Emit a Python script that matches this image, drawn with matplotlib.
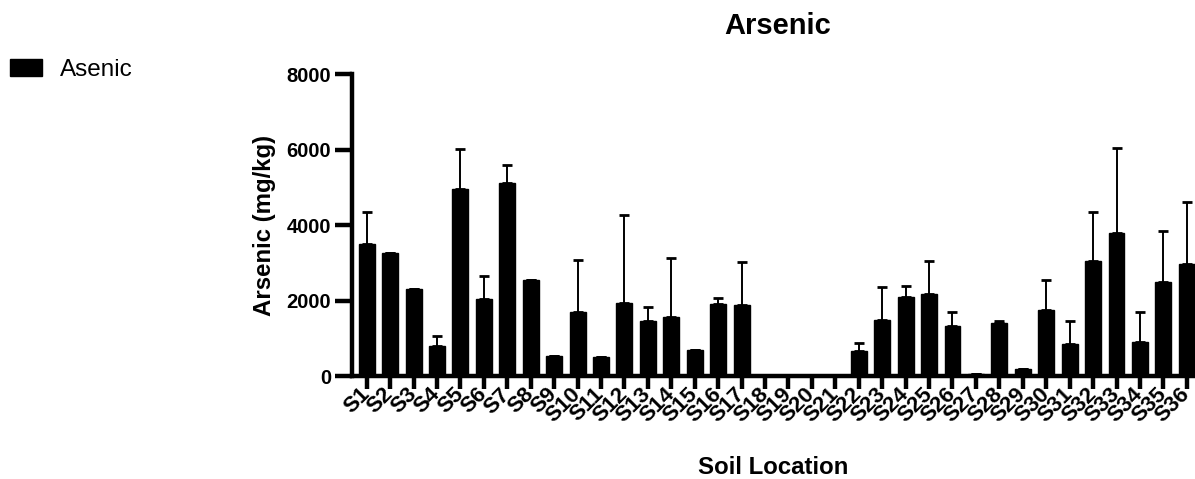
import matplotlib
matplotlib.use("Agg")
import matplotlib.pyplot as plt
import numpy as np

plt.rcParams['font.family'] = ['Liberation Sans', 'DejaVu Sans']

locations = [f"S{i}" for i in range(1, 37)]
means = [3500, 3267, 2313, 795, 4945, 2048, 5121, 2552, 539, 1687,
         512, 1943, 1448, 1572, 698, 1899, 1890, 0, 0, 0,
         0, 653, 1492, 2102, 2182, 1316, 62, 1413, 194, 1740,
         857, 3055, 3788, 901, 2499, 2958]
upper = [4353, 3267, 2313, 1060, 6005, 2649, 5590, 2552, 539, 3073,
         512, 4256, 1828, 3126, 698, 2066, 3028, 0, 0, 0,
         0, 883, 2358, 2384, 3037, 1687, 62, 1466, 194, 2543,
         1457, 4344, 6049, 1695, 3841, 4618]
errs = [max(u - m, 0) for u, m in zip(upper, means)]
yticks = [0, 2000, 4000, 6000, 8000]

W, H = 1195, 479
fig = plt.figure(figsize=(W / 100, H / 100), dpi=100)
ax = fig.add_axes([352 / W, 1 - 376 / H, (1195 - 352) / W, (376 - 74) / H])

x = np.arange(len(locations))
bars = ax.bar(x, means, width=0.68, color='black', edgecolor='black', linewidth=1,
              label='Asenic', zorder=2)
ax.errorbar(x, means, yerr=[np.zeros(len(errs)), errs], fmt='none', ecolor='black',
            elinewidth=1.4, capsize=3.5, capthick=2, zorder=1)

ax.set_xlim(-0.627, 35.35)
ax.set_ylim(0, 8000)
ax.set_yticks(yticks)
ax.set_yticklabels([str(v) for v in yticks], fontsize=14.5, fontweight='bold')
ax.set_xticks(x)
ax.set_xticklabels(locations, fontsize=16, fontweight='bold', rotation=45,
                   ha='right', va='center', rotation_mode='anchor')

for s in ['top', 'right']:
    ax.spines[s].set_visible(False)
for s in ['left', 'bottom']:
    ax.spines[s].set_linewidth(3.2)
ax.tick_params(axis='y', length=12, width=3.2, pad=3)
ax.tick_params(axis='x', length=9, width=3.2, pad=2)

ax.set_ylabel('Arsenic (mg/kg)', fontsize=17.3, fontweight='bold', va='center')
ax.yaxis.set_label_coords((264 - 352) / (1195 - 352), 0.5)
ax.set_xlabel('Soil Location', fontsize=17.3, fontweight='bold')
ax.xaxis.set_label_coords(0.5, -(467 - 376) / (376 - 74))
ax.xaxis.label.set_va('center')

fig.text(778 / W, 1 - 26 / H, 'Arsenic', fontsize=21, fontweight='bold',
         ha='center', va='center')

fig.legend(handles=[bars], labels=['Asenic'], loc='center left',
           bbox_to_anchor=(10 / W, 1 - 70 / H), frameon=False, fontsize=17.5,
           handlelength=1.3, handleheight=0.7, handletextpad=0.75, borderaxespad=0,
           borderpad=0)

fig.savefig('out.png', dpi=100)
